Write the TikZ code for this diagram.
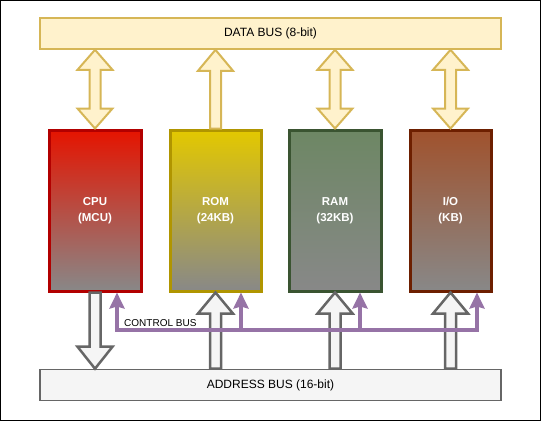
\documentclass[tikz,border=0pt]{standalone}
\usepackage{fontspec}
\setmainfont{Liberation Sans}
\usetikzlibrary{arrows.meta,calc}
\definecolor{dbfill}{HTML}{FFF2CC}
\definecolor{dbline}{HTML}{D6B656}
\definecolor{abfill}{HTML}{F5F5F5}
\definecolor{abline}{HTML}{666666}
\definecolor{ctrlc}{HTML}{9673A6}
\definecolor{cpuf}{HTML}{E51400}\definecolor{cpul}{HTML}{B20000}
\definecolor{romf}{HTML}{E3C800}\definecolor{roml}{HTML}{B09500}
\definecolor{ramf}{HTML}{6D8764}\definecolor{raml}{HTML}{3A5431}
\definecolor{iof}{HTML}{A0522D}\definecolor{iol}{HTML}{6D1F00}
\definecolor{grad}{HTML}{888888}
\tikzset{
  busbox/.style={draw, line width=1.6pt, minimum height=31pt, inner sep=0pt, font=\fontsize{12}{15}\selectfont},
  unitbox/.style={line width=3pt, minimum height=161pt, inner sep=0pt, text=white,
     font=\bfseries\fontsize{11.5}{15.5}\selectfont, align=center, bottom color=grad},
  databus/.style={draw=dbline, fill=dbfill, line width=2pt, line join=miter},
  addrbus/.style={draw=abline, fill=abfill, line width=2.5pt, line join=miter},
  ctrl/.style={draw=ctrlc, line width=3.5pt, line join=miter},
  ctrltip/.style={-{Stealth[inset=2pt,length=16pt,width=15pt]}},
}
% double vertical block arrow between top point #2 and bottom point #3
\newcommand{\blkboth}[3]{%
  \draw[#1] let \p1=(#2), \p2=(#3) in
    (\x2,\y1) -- ++(17.5pt,-20pt) -- ++(-12pt,0pt) -- (\x2+5.5pt,\y2+20pt) -- ++(12pt,0pt)
    -- (\x2,\y2) -- ++(-17.5pt,20pt) -- ++(12pt,0pt) -- (\x2-5.5pt,\y1-20pt) -- ++(-12pt,0pt) -- cycle;}
% upward block arrow: tip at #2 (top), tail at #3 (bottom)
\newcommand{\blkup}[3]{%
  \draw[#1] let \p1=(#2), \p2=(#3) in
    (\x2,\y1) -- ++(17.5pt,-21pt) -- ++(-12pt,0pt) -- (\x2+5.5pt,\y2) -- (\x2-5.5pt,\y2)
    -- (\x2-5.5pt,\y1-21pt) -- ++(-12pt,0pt) -- cycle;}
% downward block arrow: tail at #2 (top), tip at #3 (bottom)
\newcommand{\blkdown}[3]{%
  \draw[#1] let \p1=(#2), \p2=(#3) in
    (\x1+5.5pt,\y1) -- (\x1+5.5pt,\y2+22pt) -- ++(12pt,0pt) -- (\x1,\y2) -- ++(-17.5pt,22pt)
    -- ++(12pt,0pt) -- (\x1-5.5pt,\y1) -- cycle;}
\begin{document}
\begin{tikzpicture}[x=1pt,y=-1pt]
\useasboundingbox (0,0) rectangle (541,421);
\draw[black, line width=1.2pt] (0.6,0.6) rectangle (540.4,420.4);

\node[busbox, draw=dbline, fill=dbfill, minimum width=461pt] (data) at (270.5,33.5) {DATA BUS (8-bit)};
\node[busbox, draw=abline, fill=abfill, minimum width=461pt] (addr) at (270.5,385) {ADDRESS BUS (16-bit)};

\node[unitbox, draw=cpul, top color=cpuf, minimum width=92pt] (cpu) at (95,210.5) {CPU\\(MCU)};
\node[unitbox, draw=roml, top color=romf, minimum width=91pt] (rom) at (215.5,210.5) {ROM\\(24KB)};
\node[unitbox, draw=raml, top color=ramf, minimum width=92pt] (ram) at (335,210.5) {RAM\\(32KB)};
\node[unitbox, draw=iol, top color=iof, minimum width=81pt] (io) at (450.5,210.5) {I/O\\(KB)};

% data bus arrows
\blkboth{databus}{data.south}{cpu.north}
\blkup{databus}{data.south}{rom.north}
\blkboth{databus}{data.south}{ram.north}
\blkboth{databus}{data.south}{io.north}

% address bus arrows
\blkdown{addrbus}{cpu.south}{addr.north -| cpu.south}
\blkup{addrbus}{rom.south}{addr.north -| rom.south}
\blkup{addrbus}{ram.south}{addr.north -| ram.south}
\blkup{addrbus}{io.south}{addr.north -| io.south}

% control bus
\coordinate (cb) at (0,330);
\coordinate (c1) at ([xshift=22pt]cpu.south);
\coordinate (c2) at ([xshift=25.5pt]rom.south);
\coordinate (c3) at ([xshift=25pt]ram.south);
\coordinate (c4) at ([xshift=26.5pt]io.south);
\draw[ctrl, {Stealth[inset=2pt,length=16pt,width=15pt]}-{Stealth[inset=2pt,length=16pt,width=15pt]}]
  (c1) -- (c1 |- cb) -- (c4 |- cb) -- (c4);
\draw[ctrl, ctrltip] (c2 |- cb) -- (c2);
\draw[ctrl, ctrltip] (c3 |- cb) -- (c3);
\node[anchor=south west, inner sep=0pt, font=\fontsize{10}{12}\selectfont] (cblabel) at (124,327) {CONTROL BUS};
\end{tikzpicture}
\end{document}
